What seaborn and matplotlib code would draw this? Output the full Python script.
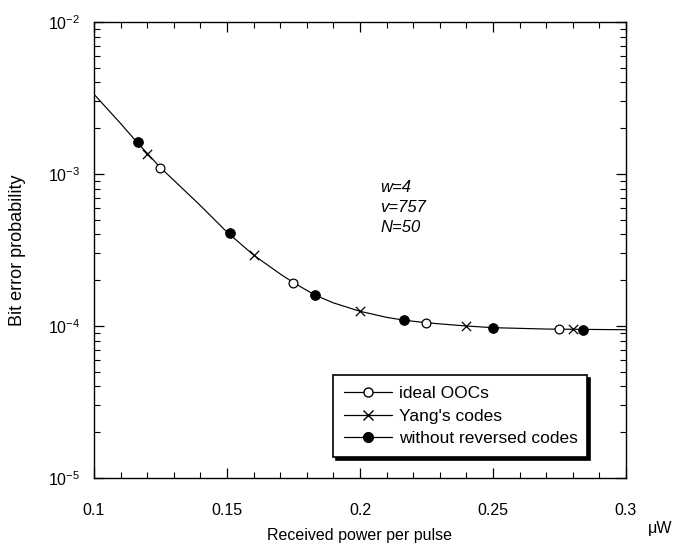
import numpy as np
import pandas as pd
import matplotlib
matplotlib.use("Agg")
import matplotlib.pyplot as plt
from matplotlib.lines import Line2D
from matplotlib.ticker import MultipleLocator, FixedLocator, FixedFormatter
import seaborn as sns

# ---- data ----
curve_x = [0.10, 0.11, 0.116, 0.12, 0.125, 0.13, 0.14, 0.15, 0.16, 0.17, 0.175,
           0.183, 0.19, 0.20, 0.21, 0.217, 0.225, 0.24, 0.25, 0.27, 0.30]
curve_y = [3.35e-3, 2.15e-3, 1.63e-3, 1.37e-3, 1.10e-3, 9.1e-4, 6.2e-4, 4.15e-4,
           2.93e-4, 2.2e-4, 1.93e-4, 1.60e-4, 1.42e-4, 1.25e-4, 1.14e-4, 1.09e-4,
           1.05e-4, 1.0e-4, 9.75e-5, 9.55e-5, 9.45e-5]

ideal_x = [0.125, 0.175, 0.225, 0.275]
ideal_y = [1.10e-3, 1.92e-4, 1.047e-4, 9.55e-5]

yang_x = [0.120, 0.160, 0.200, 0.240, 0.280]
yang_y = [1.35e-3, 2.93e-4, 1.256e-4, 1.0e-4, 9.55e-5]

norev_x = [0.1165, 0.151, 0.183, 0.2165, 0.250, 0.284]
norev_y = [1.62e-3, 4.09e-4, 1.60e-4, 1.094e-4, 9.7e-5, 9.4e-5]

x_ticks = [0.1, 0.15, 0.2, 0.25, 0.3]
x_tick_labels = ["0.1", "0.15", "0.2", "0.25", "0.3"]
legend_labels = ["ideal OOCs", "Yang's codes", "without reversed codes"]
params_text = ["w=4", "v=757", "N=50"]

sns.set_theme(style="ticks")
plt.rcParams['font.family'] = ['Liberation Sans', 'DejaVu Sans']
plt.rcParams['mathtext.fontset'] = 'custom'
plt.rcParams['mathtext.rm'] = 'Liberation Sans'
plt.rcParams['mathtext.it'] = 'Liberation Sans:italic'
plt.rcParams['axes.unicode_minus'] = False
plt.rcParams['text.color'] = 'black'
plt.rcParams['axes.labelcolor'] = 'black'
plt.rcParams['xtick.color'] = 'black'
plt.rcParams['ytick.color'] = 'black'

fig = plt.figure(figsize=(6.79, 5.48), dpi=100)
ax = fig.add_axes([0.1384, 0.1277, 0.7835, 0.8322])

curve = pd.DataFrame({"x": curve_x, "y": curve_y})
sns.lineplot(data=curve, x="x", y="y", ax=ax, color="black", linewidth=0.85,
             sort=False, estimator=None)

sns.scatterplot(x=ideal_x, y=ideal_y, ax=ax, marker="o", s=40,
                facecolor="white", edgecolor="black", linewidth=0.9, zorder=3)
sns.scatterplot(x=yang_x, y=yang_y, ax=ax, marker="x", s=45,
                color="black", linewidth=0.9, zorder=3)
sns.scatterplot(x=norev_x, y=norev_y, ax=ax, marker="o", s=50,
                color="black", edgecolor="black", zorder=3)

ax.set_yscale("log")
ax.set_xlim(0.1, 0.3)
ax.set_ylim(1e-5, 1e-2)

ax.xaxis.set_major_locator(FixedLocator(x_ticks))
ax.xaxis.set_major_formatter(FixedFormatter(x_tick_labels))
ax.xaxis.set_minor_locator(MultipleLocator(0.01))

ax.tick_params(which="both", direction="in", top=True, right=True,
               labelsize=11.5, colors="black")
ax.tick_params(which="major", length=7, width=0.9)
ax.tick_params(which="minor", length=4, width=0.8)
ax.tick_params(axis="x", which="major", pad=18)
ax.tick_params(axis="y", which="major", pad=10)

for sp in ax.spines.values():
    sp.set_linewidth(1.0)
    sp.set_color("black")

ax.set_xlabel("Received power per pulse", fontsize=11.5, labelpad=7, color="black")
ax.set_ylabel("Bit error probability", fontsize=13, labelpad=16, color="black")
ax.grid(False)

fig.text(0.972, 0.035, "\u03bcW", fontsize=11.5, ha="center", va="center",
         color="black")

for i, t in enumerate(params_text):
    ax.text(0.538, 0.638 - i * 0.044, t, transform=ax.transAxes, color="black",
            fontsize=12, style="italic", ha="left", va="center")

handles = [
    Line2D([], [], color="black", linewidth=0.9, marker="o", markersize=6.5,
           markerfacecolor="white", markeredgecolor="black"),
    Line2D([], [], color="black", linewidth=0.9, marker="x", markersize=7),
    Line2D([], [], color="black", linewidth=0.9, marker="o", markersize=7,
           markerfacecolor="black"),
]
leg = ax.legend(handles, legend_labels, loc="lower left",
                bbox_to_anchor=(0.449, 0.046, 0.478, 0.184), mode="expand",
                fontsize=12.5, frameon=True, fancybox=False, framealpha=1,
                edgecolor="black", shadow={"color": "black", "alpha": 1},
                handlelength=2.8, labelspacing=0.42, borderaxespad=0,
                borderpad=0.62, handletextpad=0.4, labelcolor="black")
leg.get_frame().set_linewidth(1.2)

fig.savefig("out.png", dpi=100)
